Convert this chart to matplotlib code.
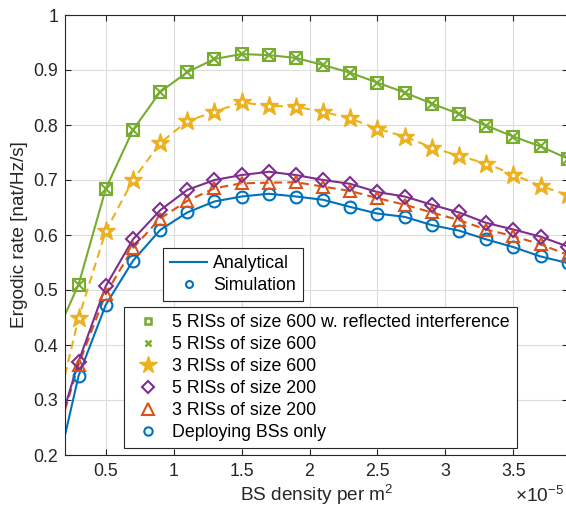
"""Ergodic rate versus BS density, with and without RIS deployment."""

import matplotlib.pyplot as plt
from matplotlib.lines import Line2D

plt.rcParams["font.family"] = ["Liberation Sans", "DejaVu Sans"]
plt.rcParams["mathtext.fontset"] = "custom"
plt.rcParams["mathtext.rm"] = "Liberation Sans"
plt.rcParams["mathtext.it"] = "Liberation Sans:italic"

# BS density in units of 1e-5 per m^2
DENSITY_LINE = [0.2, 0.3, 0.5, 0.7, 0.9, 1.1, 1.3, 1.5, 1.7, 1.9, 2.1,
                2.3, 2.5, 2.7, 2.9, 3.1, 3.3, 3.5, 3.7, 3.9]
DENSITY_SIM = DENSITY_LINE[1:]

# analytical curves (value at the left edge, then the simulated points)
GREEN_LINE = [0.455, 0.510, 0.684, 0.791, 0.860, 0.896, 0.920, 0.929, 0.927, 0.922,
              0.909, 0.895, 0.877, 0.859, 0.839, 0.820, 0.799, 0.779, 0.761, 0.739]
YELLOW_LINE = [0.345, 0.449, 0.607, 0.700, 0.767, 0.807, 0.824, 0.841, 0.835, 0.833,
               0.824, 0.812, 0.793, 0.779, 0.759, 0.744, 0.730, 0.710, 0.689, 0.673]
PURPLE_LINE = [0.288, 0.370, 0.507, 0.592, 0.645, 0.682, 0.700, 0.709, 0.715, 0.709,
               0.700, 0.693, 0.678, 0.670, 0.655, 0.641, 0.622, 0.610, 0.597, 0.579]
ORANGE_LINE = [0.282, 0.364, 0.493, 0.576, 0.630, 0.662, 0.685, 0.694, 0.695, 0.696,
               0.688, 0.680, 0.667, 0.655, 0.641, 0.627, 0.610, 0.598, 0.583, 0.564]
BLUE_LINE = [0.236, 0.344, 0.473, 0.553, 0.609, 0.641, 0.661, 0.670, 0.675, 0.670,
             0.664, 0.651, 0.639, 0.633, 0.618, 0.608, 0.592, 0.578, 0.561, 0.549]

# simulation points
GREEN_REFL_SIM = GREEN_LINE[1:]
GREEN_SIM = GREEN_LINE[1:]
YELLOW_SIM = YELLOW_LINE[1:]
PURPLE_SIM = PURPLE_LINE[1:]
ORANGE_SIM = ORANGE_LINE[1:]
BLUE_SIM = BLUE_LINE[1:]

SERIES_LABELS = [
    "5 RISs of size 600 w. reflected interference",
    "5 RISs of size 600",
    "3 RISs of size 600",
    "5 RISs of size 200",
    "3 RISs of size 200",
    "Deploying BSs only",
]

BLUE = "#0072BD"
ORANGE = "#D95319"
YELLOW = "#EDB120"
PURPLE = "#7E2F8E"
GREEN = "#77AC30"
AXIS_GRAY = "#262626"

TICK_FS = 12.8
LABEL_FS = 13.7

W, H = 566, 515
fig = plt.figure(figsize=(W / 100, H / 100), dpi=100)
ax = fig.add_axes([65 / W, 1 - 455 / H, (567.7 - 65) / W, 440 / H])

lw = 1.5
mew = 1.5
dash = (4, 2.5)

# analytical lines
ax.plot(DENSITY_LINE, BLUE_LINE, color=BLUE, lw=lw)
ax.plot(DENSITY_LINE, ORANGE_LINE, color=ORANGE, lw=lw, ls="--", dashes=dash)
ax.plot(DENSITY_LINE, PURPLE_LINE, color=PURPLE, lw=lw)
ax.plot(DENSITY_LINE, YELLOW_LINE, color=YELLOW, lw=lw, ls="--", dashes=dash)
ax.plot(DENSITY_LINE, GREEN_LINE, color=GREEN, lw=lw)

# simulation markers
ax.plot(DENSITY_SIM, BLUE_SIM, ls="none", marker="o", ms=8.5, mfc="none", mec=BLUE, mew=mew)
ax.plot(DENSITY_SIM, ORANGE_SIM, ls="none", marker="^", ms=9, mfc="none", mec=ORANGE, mew=mew)
ax.plot(DENSITY_SIM, PURPLE_SIM, ls="none", marker="D", ms=7, mfc="none", mec=PURPLE, mew=mew)
ax.plot(DENSITY_SIM, YELLOW_SIM, ls="none", marker="*", ms=14, mfc=YELLOW, mec=YELLOW, mew=1)
ax.plot(DENSITY_SIM, YELLOW_SIM, ls="none", marker="*", ms=3, mfc="white", mec="white", mew=0.5)
ax.plot(DENSITY_SIM, GREEN_REFL_SIM, ls="none", marker="s", ms=8, mfc="none", mec=GREEN, mew=mew)
ax.plot(DENSITY_SIM, GREEN_SIM, ls="none", marker="x", ms=7, mec=GREEN, mew=mew)

ax.set_xlim(0.2, 3.9)
ax.set_ylim(0.2, 1.0)
ax.set_xticks([0.5, 1, 1.5, 2, 2.5, 3, 3.5])
ax.set_xticklabels(["0.5", "1", "1.5", "2", "2.5", "3", "3.5"])
ax.set_yticks([0.2, 0.3, 0.4, 0.5, 0.6, 0.7, 0.8, 0.9, 1.0])
ax.set_yticklabels(["0.2", "0.3", "0.4", "0.5", "0.6", "0.7", "0.8", "0.9", "1"])
ax.tick_params(direction="in", length=4, width=0.8, colors=AXIS_GRAY,
               labelsize=TICK_FS, top=True, right=True)
ax.tick_params(axis="x", pad=6)
ax.tick_params(axis="y", pad=5)
for spine in ax.spines.values():
    spine.set_color(AXIS_GRAY)
    spine.set_linewidth(0.8)
ax.grid(True, color="#dcdcdc", lw=0.8)
ax.set_axisbelow(True)

ax.set_xlabel("BS density per m$^2$", fontsize=LABEL_FS, color=AXIS_GRAY, labelpad=2)
ax.set_ylabel("Ergodic rate [nat/Hz/s]", fontsize=LABEL_FS, color=AXIS_GRAY, labelpad=4)
ax.text(0.895, -0.094, r"$\times10^{-5}$", transform=ax.transAxes,
        fontsize=LABEL_FS, color=AXIS_GRAY, ha="left", va="center")

# legend for line / marker meaning
style_handles = [
    Line2D([], [], color=BLUE, lw=lw),
    Line2D([], [], ls="none", marker="o", ms=5, mfc="none", mec=BLUE, mew=mew),
]
leg1 = ax.legend(style_handles, ["Analytical", "Simulation"], loc="upper left",
                 bbox_to_anchor=(163 / W, 1 - 248 / H), bbox_transform=fig.transFigure,
                 borderaxespad=0, fontsize=TICK_FS, frameon=True, fancybox=False,
                 edgecolor=AXIS_GRAY, framealpha=1, handlelength=2.1,
                 handletextpad=0.3, labelspacing=0.28, borderpad=0.4)
leg1.get_frame().set_linewidth(0.8)
ax.add_artist(leg1)

# legend for scenarios
scenario_handles = [
    Line2D([], [], ls="none", marker="s", ms=4, mfc="white", mec=GREEN, mew=1.8),
    Line2D([], [], ls="none", marker="x", ms=4, mec=GREEN, mew=1.8),
    Line2D([], [], ls="none", marker="*", ms=13, mfc=YELLOW, mec=YELLOW),
    Line2D([], [], ls="none", marker="D", ms=6, mfc="none", mec=PURPLE, mew=mew),
    Line2D([], [], ls="none", marker="^", ms=8, mfc="none", mec=ORANGE, mew=mew),
    Line2D([], [], ls="none", marker="o", ms=6, mfc="none", mec=BLUE, mew=mew),
]
leg2 = ax.legend(scenario_handles, SERIES_LABELS, loc="upper left",
                 bbox_to_anchor=(124 / W, 1 - 307 / H), bbox_transform=fig.transFigure,
                 borderaxespad=0, fontsize=TICK_FS, frameon=True, fancybox=False,
                 edgecolor=AXIS_GRAY, framealpha=1, handlelength=1.9,
                 handletextpad=0.4, labelspacing=0.28, borderpad=0.4)
leg2.get_frame().set_linewidth(0.8)

fig.savefig("out.png", dpi=100)
